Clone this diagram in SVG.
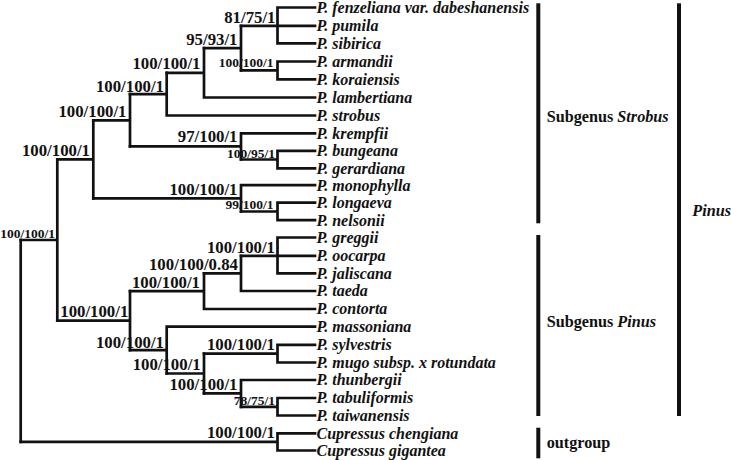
<svg xmlns="http://www.w3.org/2000/svg" width="731" height="460" viewBox="0 0 731 460">
<style>
text{font-family:"Liberation Serif","Times New Roman",serif;font-weight:bold;fill:#111}
.tx{font-size:16px;font-style:italic}
.bs{font-size:16.8px;text-anchor:end}
.sm{font-size:13.5px;text-anchor:end}
.cl{font-size:16.2px}
.br{stroke:#111;stroke-width:2.7;fill:none;stroke-linecap:square}
.bar{fill:#111}
</style>
<rect width="731" height="460" fill="#fff"/>
<g id="connectors" class="br">
<path d="M277.5,7.5V43.3M277.5,7.5H315M241,25.8H315M277.5,43.3H315"/>
<path d="M277.5,61.5V79.3M277.5,61.5H315M277.5,79.3H315M241,70.4H277.5"/>
<path d="M241,25.8V70.4M204,48.1H241"/>
<path d="M204,48.1V97.5M204,97.5H315M166.7,72.8H204"/>
<path d="M166.7,72.8V115.5M166.7,115.5H315M130,94.2H166.7"/>
<path d="M277.5,150.8V168.3M277.5,150.8H315M277.5,168.3H315M241,159.5H277.5"/>
<path d="M241,133.3V159.5M241,133.3H315M130,146.4H241"/>
<path d="M130,94.2V146.4M93.3,120.3H130"/>
<path d="M277.5,202.7V220.2M277.5,202.7H315M277.5,220.2H315M241,211.5H277.5"/>
<path d="M241,185.2V211.5M241,185.2H315M93.3,198.3H241"/>
<path d="M93.3,120.3V198.3M57.3,159.3H93.3"/>
<path d="M277.5,237.5V273.3M277.5,237.5H315M241,255.8H315M277.5,273.3H315"/>
<path d="M241,255.8V291M241,291H315M204,273.4H241"/>
<path d="M204,273.4V309M204,309H315M130,291.2H204"/>
<path d="M277.5,344.8V362.5M277.5,344.8H315M277.5,362.5H315M204,353.6H277.5"/>
<path d="M277.5,398V415.5M277.5,398H315M277.5,415.5H315M241,406.8H277.5"/>
<path d="M241,380V406.8M241,380H315M204,393.4H241"/>
<path d="M204,353.6V393.4M166.7,373.5H204"/>
<path d="M166.7,326.7V373.5M166.7,326.7H315M130,350.1H166.7"/>
<path d="M130,291.2V350.1M57.3,320.6H130"/>
<path d="M57.3,159.3V320.6M20.7,240H57.3"/>
<path d="M277.5,433.3V450.5M277.5,433.3H315M277.5,450.5H315M20.7,441.9H277.5"/>
<path d="M20.7,240V441.9"/>
</g>
<g id="taxa">
<g id="t0"><text class="tx" x="316.5" y="12.8">P. fenzeliana var. dabeshanensis</text></g>
<g id="t1"><text class="tx" x="316.5" y="31.1">P. pumila</text></g>
<g id="t2"><text class="tx" x="316.5" y="48.6">P. sibirica</text></g>
<g id="t3"><text class="tx" x="316.5" y="66.8">P. armandii</text></g>
<g id="t4"><text class="tx" x="316.5" y="84.6">P. koraiensis</text></g>
<g id="t5"><text class="tx" x="316.5" y="102.8">P. lambertiana</text></g>
<g id="t6"><text class="tx" x="316.5" y="120.8">P. strobus</text></g>
<g id="t7"><text class="tx" x="316.5" y="138.6">P. krempfii</text></g>
<g id="t8"><text class="tx" x="316.5" y="156.1">P. bungeana</text></g>
<g id="t9"><text class="tx" x="316.5" y="173.6">P. gerardiana</text></g>
<g id="t10"><text class="tx" x="316.5" y="190.5">P. monophylla</text></g>
<g id="t11"><text class="tx" x="316.5" y="208">P. longaeva</text></g>
<g id="t12"><text class="tx" x="316.5" y="225.5">P. nelsonii</text></g>
<g id="t13"><text class="tx" x="316.5" y="242.8">P. greggii</text></g>
<g id="t14"><text class="tx" x="316.5" y="261.1">P. oocarpa</text></g>
<g id="t15"><text class="tx" x="316.5" y="278.6">P. jaliscana</text></g>
<g id="t16"><text class="tx" x="316.5" y="296.3">P. taeda</text></g>
<g id="t17"><text class="tx" x="316.5" y="314.3">P. contorta</text></g>
<g id="t18"><text class="tx" x="316.5" y="332">P. massoniana</text></g>
<g id="t19"><text class="tx" x="316.5" y="350.1">P. sylvestris</text></g>
<g id="t20"><text class="tx" x="316.5" y="367.8">P. mugo subsp. x rotundata</text></g>
<g id="t21"><text class="tx" x="316.5" y="385.3">P. thunbergii</text></g>
<g id="t22"><text class="tx" x="316.5" y="403.3">P. tabuliformis</text></g>
<g id="t23"><text class="tx" x="316.5" y="420.8">P. taiwanensis</text></g>
<g id="t24"><text class="tx" x="316.5" y="438.6">Cupressus chengiana</text></g>
<g id="t25"><text class="tx" x="316.5" y="455.8">Cupressus gigantea</text></g>
</g>
<g id="supports">
<g id="nA"><text class="bs" x="275.5" y="23.3">81/75/1</text></g>
<g id="nB"><text class="sm" x="273.5" y="67">100/100/1</text></g>
<g id="nC"><text class="bs" x="237.5" y="45">95/93/1</text></g>
<g id="nD"><text class="bs" x="200.5" y="68.5">100/100/1</text></g>
<g id="nE"><text class="bs" x="164" y="91.7">100/100/1</text></g>
<g id="nF"><text class="bs" x="237.5" y="141.7">97/100/1</text></g>
<g id="nG"><text class="sm" x="275" y="157.5">100/95/1</text></g>
<g id="nH"><text class="bs" x="126.5" y="116.7">100/100/1</text></g>
<g id="nI"><text class="sm" x="273.5" y="208.8">99/100/1</text></g>
<g id="nJ"><text class="bs" x="237.5" y="195">100/100/1</text></g>
<g id="nK"><text class="bs" x="90" y="156">100/100/1</text></g>
<g id="nL"><text class="bs" x="275" y="252.5">100/100/1</text></g>
<g id="nM"><text class="bs" x="238" y="270">100/100/0.84</text></g>
<g id="nN"><text class="bs" x="200" y="288.3">100/100/1</text></g>
<g id="nO"><text class="bs" x="275" y="350">100/100/1</text></g>
<g id="nP"><text class="sm" x="275" y="404.5">78/75/1</text></g>
<g id="nQ"><text class="bs" x="237.5" y="390">100/100/1</text></g>
<g id="nR"><text class="bs" x="200.7" y="369.5">100/100/1</text></g>
<g id="nS"><text class="bs" x="164" y="347.7">100/100/1</text></g>
<g id="nT"><text class="bs" x="128.3" y="316.8">100/100/1</text></g>
<g id="nU"><text class="sm" x="55" y="238.3">100/100/1</text></g>
<g id="nV"><text class="bs" x="275" y="438.3">100/100/1</text></g>
</g>
<g id="clades">
<g id="strobus"><rect class="bar" x="536.3" y="3.3" width="4" height="220"/><text class="cl" x="546.7" y="122">Subgenus <tspan font-style="italic">Strobus</tspan></text></g>
<g id="pinus-sub"><rect class="bar" x="536.3" y="235" width="4" height="181"/><text class="cl" x="546.7" y="327">Subgenus <tspan font-style="italic">Pinus</tspan></text></g>
<g id="outgroup"><rect class="bar" x="536.3" y="427.7" width="4" height="30.6"/><text class="cl" x="546.7" y="447.5">outgroup</text></g>
<g id="pinus"><rect class="bar" x="677" y="3.3" width="4" height="412.7"/><text class="cl" x="692.3" y="215.5" font-style="italic">Pinus</text></g>
</g>
</svg>
